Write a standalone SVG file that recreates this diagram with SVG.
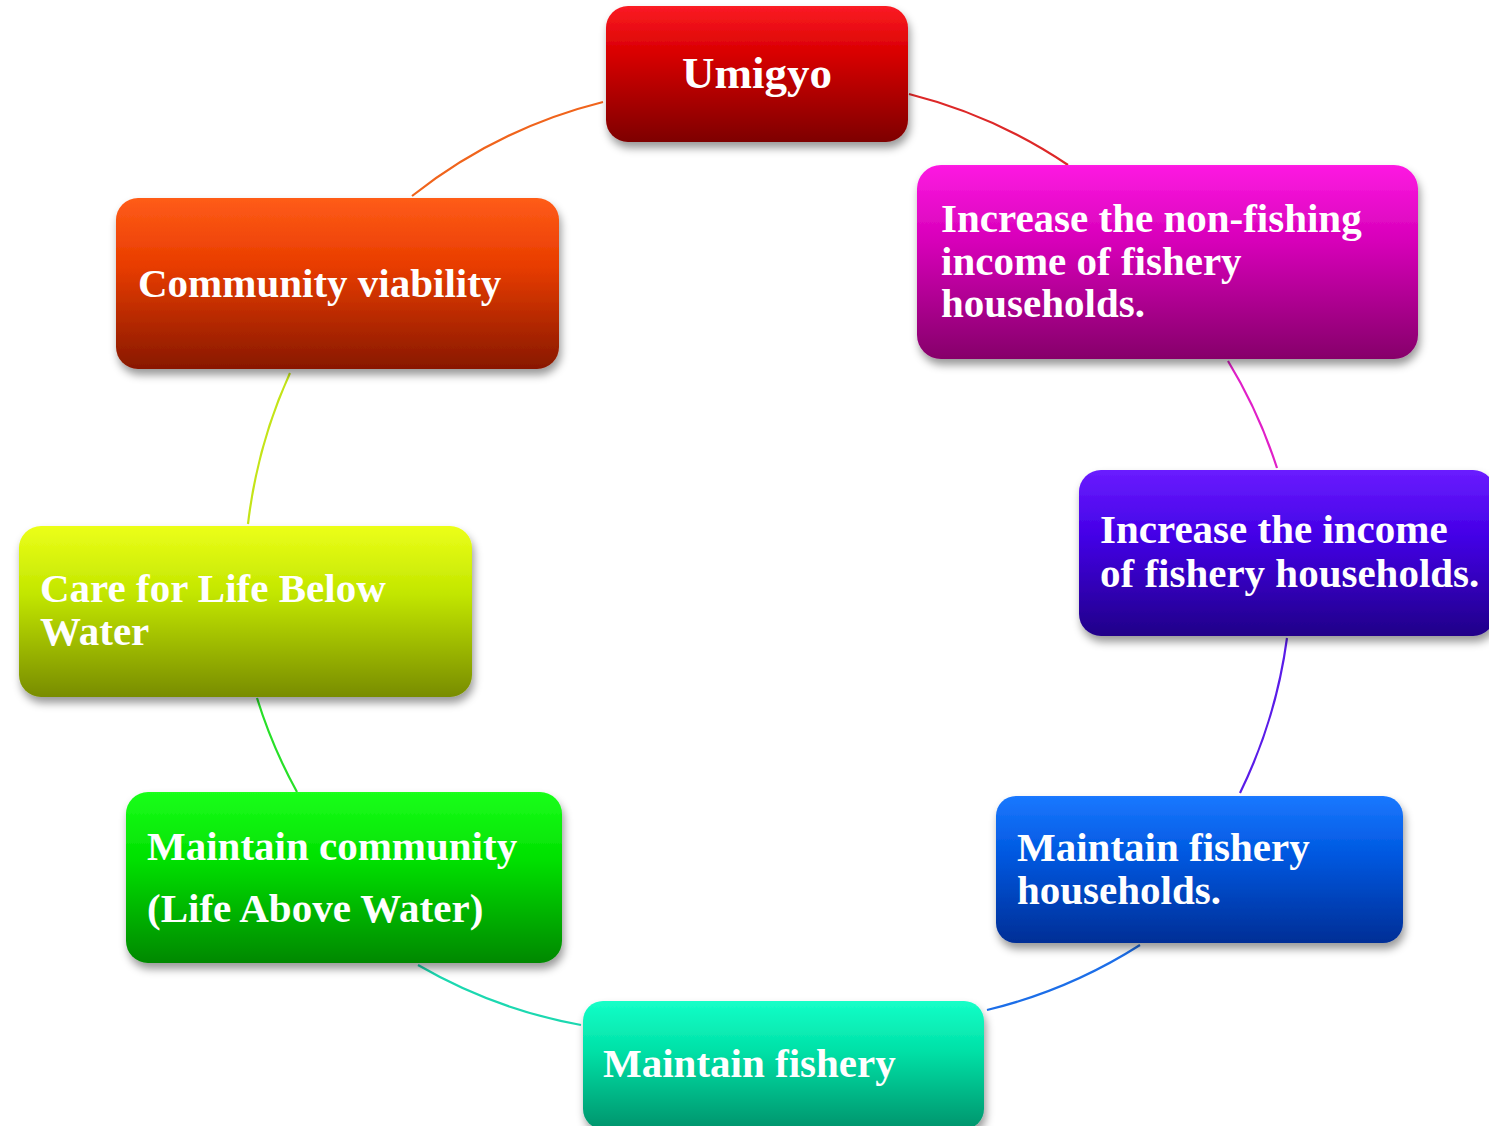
<svg xmlns="http://www.w3.org/2000/svg" width="1489" height="1126" viewBox="0 0 1489 1126">
<style>
.t{font-family:"Liberation Serif","Times New Roman",serif;font-weight:bold;font-size:41px;fill:#ffffff}
.c{fill:none;stroke-width:2.2}
</style>
<defs>
<filter id="sh" x="-10%" y="-10%" width="120%" height="130%">
<feDropShadow dx="2" dy="6" stdDeviation="4" flood-color="#000" flood-opacity="0.4"/>
</filter>
<linearGradient id="gRed" x1="0" y1="0" x2="0" y2="1"><stop offset="0" stop-color="#fb1b24"/><stop offset="0.35" stop-color="#d80000"/><stop offset="1" stop-color="#7e0000"/></linearGradient>
<linearGradient id="gMag" x1="0" y1="0" x2="0" y2="1"><stop offset="0" stop-color="#fd1ae2"/><stop offset="0.4" stop-color="#d600b8"/><stop offset="1" stop-color="#86006a"/></linearGradient>
<linearGradient id="gPur" x1="0" y1="0" x2="0" y2="1"><stop offset="0" stop-color="#6a1cff"/><stop offset="0.4" stop-color="#4300e6"/><stop offset="1" stop-color="#200088"/></linearGradient>
<linearGradient id="gBlu" x1="0" y1="0" x2="0" y2="1"><stop offset="0" stop-color="#1a78ff"/><stop offset="0.4" stop-color="#0058e0"/><stop offset="1" stop-color="#002e96"/></linearGradient>
<linearGradient id="gTea" x1="0" y1="0" x2="0" y2="1"><stop offset="0" stop-color="#14ffc8"/><stop offset="0.4" stop-color="#00e0a6"/><stop offset="1" stop-color="#00946c"/></linearGradient>
<linearGradient id="gGrn" x1="0" y1="0" x2="0" y2="1"><stop offset="0" stop-color="#1aff1a"/><stop offset="0.4" stop-color="#00e000"/><stop offset="1" stop-color="#008800"/></linearGradient>
<linearGradient id="gYel" x1="0" y1="0" x2="0" y2="1"><stop offset="0" stop-color="#ecff18"/><stop offset="0.4" stop-color="#c2e600"/><stop offset="1" stop-color="#788c00"/></linearGradient>
<linearGradient id="gOra" x1="0" y1="0" x2="0" y2="1"><stop offset="0" stop-color="#ff5c18"/><stop offset="0.4" stop-color="#e83c00"/><stop offset="1" stop-color="#881800"/></linearGradient>
</defs>
<rect width="1489" height="1126" fill="#ffffff"/>
<g id="connectors">
<path class="c" stroke="#dd2828" d="M909,94 A505,505 0 0 1 1068,165"/>
<path class="c" stroke="#e020c8" d="M1228,361 A505,505 0 0 1 1277,468"/>
<path class="c" stroke="#5a1ce8" d="M1287,638 A505,505 0 0 1 1240,793"/>
<path class="c" stroke="#1c6ee8" d="M1140,945 A505,505 0 0 1 987,1010"/>
<path class="c" stroke="#1cd8b0" d="M581,1025 A505,505 0 0 1 418,965"/>
<path class="c" stroke="#28e028" d="M297,792 A505,505 0 0 1 257,698"/>
<path class="c" stroke="#c4e418" d="M248,524 A505,505 0 0 1 290,373"/>
<path class="c" stroke="#f0641c" d="M412,196 A505,505 0 0 1 603,102"/>
</g>
<g id="n-umigyo">
<rect x="606" y="6" width="302" height="136" rx="22" fill="url(#gRed)" filter="url(#sh)"/>
<text class="t" x="757" y="88" text-anchor="middle" style="font-size:45px">Umigyo</text>
</g>
<g id="n-nonfishing">
<rect x="917" y="165" width="501" height="194" rx="24" fill="url(#gMag)" filter="url(#sh)"/>
<text class="t" x="941" y="232">Increase the non-fishing</text>
<text class="t" x="941" y="275">income of fishery</text>
<text class="t" x="941" y="317">households.</text>
</g>
<g id="n-income">
<rect x="1079" y="470" width="416" height="166" rx="22" fill="url(#gPur)" filter="url(#sh)"/>
<text class="t" x="1100" y="543">Increase the income</text>
<text class="t" x="1100" y="587">of fishery households.</text>
</g>
<g id="n-maintain-households">
<rect x="996" y="796" width="407" height="147" rx="20" fill="url(#gBlu)" filter="url(#sh)"/>
<text class="t" x="1017" y="861">Maintain fishery</text>
<text class="t" x="1017" y="904">households.</text>
</g>
<g id="n-maintain-fishery">
<rect x="583" y="1001" width="401" height="128" rx="20" fill="url(#gTea)" filter="url(#sh)"/>
<text class="t" x="603" y="1077">Maintain fishery</text>
</g>
<g id="n-maintain-community">
<rect x="126" y="792" width="436" height="171" rx="22" fill="url(#gGrn)" filter="url(#sh)"/>
<text class="t" x="147" y="860">Maintain community</text>
<text class="t" x="147" y="922">(Life Above Water)</text>
</g>
<g id="n-care">
<rect x="19" y="526" width="453" height="171" rx="22" fill="url(#gYel)" filter="url(#sh)"/>
<text class="t" x="40" y="602">Care for Life Below</text>
<text class="t" x="40" y="645">Water</text>
</g>
<g id="n-community">
<rect x="116" y="198" width="443" height="171" rx="22" fill="url(#gOra)" filter="url(#sh)"/>
<text class="t" x="138" y="297">Community viability</text>
</g>
</svg>
